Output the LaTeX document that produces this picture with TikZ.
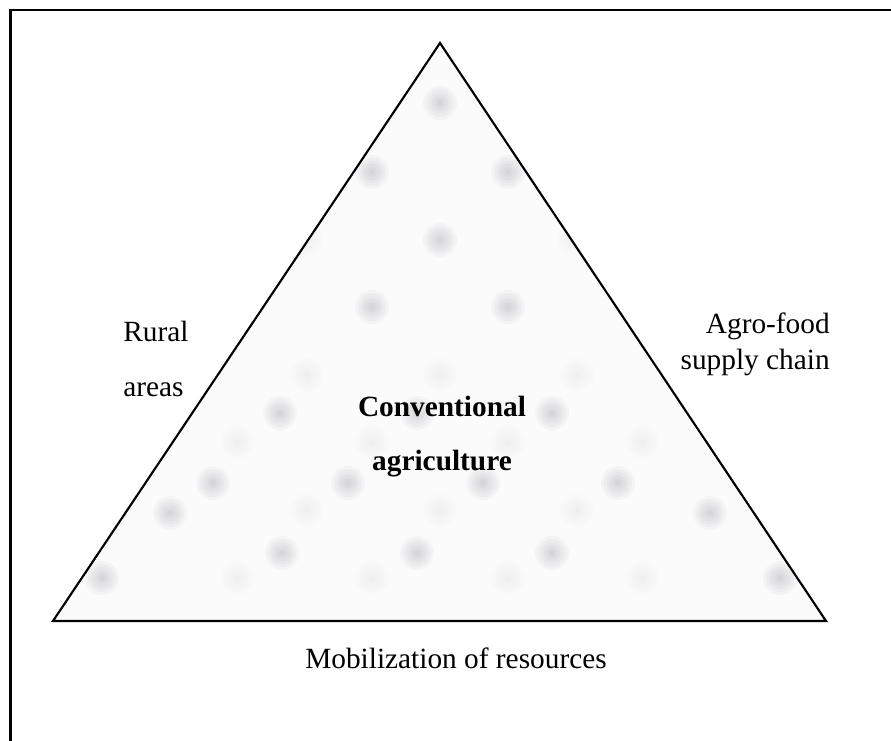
\documentclass[tikz,border=0pt]{standalone}
\usepackage{fontspec}
\setmainfont{Liberation Serif}

\definecolor{trifill}{RGB}{251,251,251}
\definecolor{dotgray}{RGB}{85,85,100}

\begin{document}
\begin{tikzpicture}[x=0.75pt,y=-0.75pt,
    labeltext/.style={font=\fontsize{22}{27}\selectfont,inner sep=0pt},
    darkdot/.style={fill=dotgray,opacity=0.04},
    faintdot/.style={fill=dotgray,opacity=0.012}]
    \useasboundingbox (0,0) rectangle (891,741);
    % Frame
    \draw[line width=2.2pt] (10.5,741) -- (10.5,10) -- (891,10);
    % Triangle
    \coordinate (L) at (53,621);
    \coordinate (R) at (826,621);
    \coordinate (T) at (440,43);
    \fill[trifill] (L) -- (R) -- (T) -- cycle;
    % Dots
    \begin{scope}
      \clip (L) -- (R) -- (T) -- cycle;
      \foreach \x/\y in {440/103, 372/172, 508/172, 440/240, 372/307, 508/307,
                         280/413, 417/413, 552/413, 213/483, 348/483, 483/483,
                         618/483, 170/513, 710/513, 282/553, 417/553, 552/553,
                         102/578, 780/578}
        \foreach \r in {17,14,11,8,5,2.5}
          \fill[darkdot] (\x,\y) circle (\r);
      \foreach \x/\y in {305/240, 575/240, 307/375, 440/375, 577/375, 237/442,
                         372/442, 508/442, 643/442, 307/510, 440/510, 577/510,
                         237/578, 372/578, 508/578, 643/578}
        \foreach \r in {17,14,11,8,5,2.5}
          \fill[faintdot] (\x,\y) circle (\r);
    \end{scope}
    \draw[line width=1.6pt,line join=miter] (L) -- (R) -- (T) -- cycle;
    % Labels
    \node[labeltext,font=\fontsize{22}{41}\selectfont,anchor=west,align=left]
      (rural) at (123,359) {Rural\\areas};
    \node[labeltext,anchor=east,align=right]
      (agro) at (830,344) {Agro-food\\supply chain};
    \node[labeltext,font=\fontsize{22}{40.5}\selectfont\bfseries,align=center]
      (conv) at (442,437) {Conventional\\agriculture};
    \node[labeltext] (mob) at (456,658) {Mobilization of resources};
\end{tikzpicture}
\end{document}
